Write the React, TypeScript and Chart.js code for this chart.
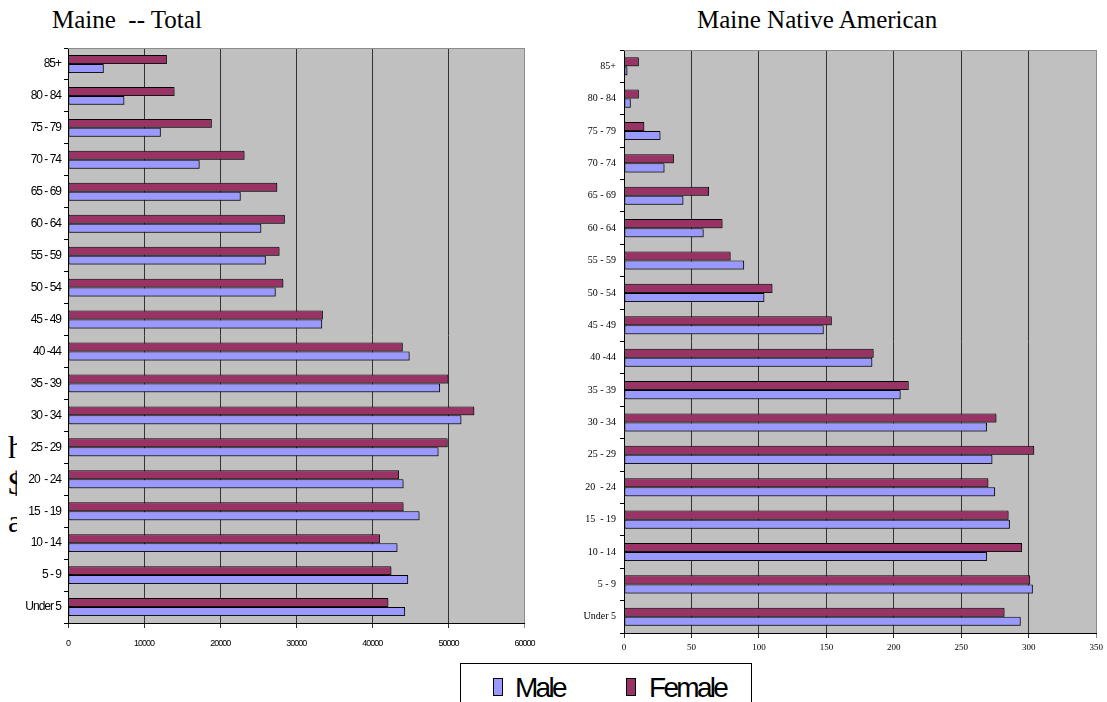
import React, { useEffect, useRef } from "react";
import { Chart, registerables } from "chart.js";

Chart.register(...registerables);

// ---- data (top row first) ----
const ageGroups = [
  "85+", "80 - 84", "75 - 79", "70 - 74", "65 - 69", "60 - 64", "55 - 59", "50 - 54", "45 - 49",
  "40 -44", "35 - 39", "30 - 34", "25 - 29", "20  - 24", "15  - 19", "10 - 14", "5 - 9", "Under 5",
];
const totalFemale = [13000, 14000, 18900, 23200, 27500, 28500, 27800, 28300, 33500, 44000, 50000, 53400, 49900, 43500, 44100, 41000, 42500, 42100];
const totalMale = [4700, 7400, 12200, 17300, 22700, 25400, 26000, 27300, 33400, 44900, 48900, 51700, 48700, 44100, 46200, 43300, 44700, 44300];
const nativeFemale = [11, 11, 15, 37, 63, 73, 79, 110, 154, 185, 211, 276, 304, 270, 285, 295, 301, 282];
const nativeMale = [2.5, 5, 27, 30, 44, 59, 89, 104, 148, 184, 205, 269, 273, 275, 286, 269, 303, 294];
const totalAxis = [0, 60000, 10000];
const nativeAxis = [0, 350, 50];
const seriesNames = ["Male", "Female"];
const titles = ["Maine  -- Total", "Maine Native American"];
const strayText = ["h", "$", "a"];

const MALE_COLOR = "#9999FF";
const FEMALE_COLOR = "#993366";
const PLOT_BG = "#C0C0C0";

function excelLook(letterSpacing: string) {
  return {
    id: "excelLook",
    beforeDraw(chart: any) {
      const { ctx, chartArea: a } = chart;
      ctx.save();
      ctx.fillStyle = PLOT_BG;
      ctx.fillRect(a.left, a.top, a.right - a.left, a.bottom - a.top);
      ctx.restore();
      (ctx as any).letterSpacing = letterSpacing;
    },
    beforeDatasetsDraw(chart: any) {
      const { ctx, chartArea: a } = chart;
      ctx.save();
      ctx.strokeStyle = "#8c8c8c";
      ctx.lineWidth = 1;
      ctx.beginPath();
      ctx.moveTo(a.left, Math.round(a.top) + 0.5);
      ctx.lineTo(Math.round(a.right) + 0.5, Math.round(a.top) + 0.5);
      ctx.lineTo(Math.round(a.right) + 0.5, a.bottom);
      ctx.stroke();
      ctx.restore();
      ctx.save();
      ctx.shadowColor = "rgba(40,40,40,0.55)";
      ctx.shadowOffsetX = 1.5;
      ctx.shadowOffsetY = 1.5;
      ctx.shadowBlur = 0;
    },
    afterDatasetsDraw(chart: any) {
      chart.ctx.restore();
    },
    afterDraw(chart: any) {
      (chart.ctx as any).letterSpacing = "0px";
    },
  };
}

type PanelProps = {
  left: number; top: number; width: number; height: number;
  female: number[]; male: number[]; axis: number[];
  yWidth: number; padTop: number; padRight: number; xHeight: number;
  yFont: any; xFont: any; xPad: number; yPad: number; letterSpacing: string;
};

function Panel(p: PanelProps) {
  const ref = useRef<HTMLCanvasElement | null>(null);
  useEffect(() => {
    if (!ref.current) return;
    const [min, max, step] = p.axis;
    const chart = new Chart(ref.current, {
      type: "bar",
      data: {
        labels: ageGroups,
        datasets: [
          {
            label: seriesNames[1], data: p.female, backgroundColor: FEMALE_COLOR,
            borderColor: "#000", borderWidth: 1, borderSkipped: false,
          },
          {
            label: seriesNames[0], data: p.male, backgroundColor: MALE_COLOR,
            borderColor: "#000", borderWidth: 1, borderSkipped: false,
          },
        ],
      },
      options: {
        indexAxis: "y",
        responsive: false,
        maintainAspectRatio: false,
        devicePixelRatio: 1,
        animation: false,
        events: [],
        layout: { padding: { left: 0, top: p.padTop, right: p.padRight, bottom: 0 } },
        datasets: { bar: { barPercentage: 1, categoryPercentage: 0.56 } },
        plugins: { legend: { display: false }, tooltip: { enabled: false }, title: { display: false } },
        scales: {
          x: {
            type: "linear", min, max,
            ticks: {
              stepSize: step, color: "#000", font: p.xFont, padding: p.xPad, maxRotation: 0, autoSkip: false,
              callback: (v: any) => String(v),
            },
            grid: {
              color: (c: any) => (c.index === (max - min) / step ? "#8c8c8c" : "#333"),
              lineWidth: 1, tickLength: 5, drawTicks: true,
            },
            border: { color: "#000", width: 1 },
            afterFit: (s: any) => { s.height = p.xHeight; },
          },
          y: {
            type: "category",
            ticks: { color: "#000", font: p.yFont, padding: p.yPad, autoSkip: false },
            grid: { drawOnChartArea: false, drawTicks: true, tickLength: 4, color: "#000" },
            border: { color: "#000", width: 1 },
            afterFit: (s: any) => { s.width = p.yWidth; },
          },
        },
      },
      plugins: [excelLook(p.letterSpacing)],
    });
    return () => chart.destroy();
  }, []);
  return (
    <canvas
      ref={ref}
      width={p.width}
      height={p.height}
      style={{ position: "absolute", left: p.left, top: p.top, width: p.width, height: p.height, background: "#fff" }}
    />
  );
}

export default function App() {
  const serif = "'Liberation Serif', 'Times New Roman', serif";
  const sans = "'Liberation Sans', Arial, sans-serif";
  return (
    <div style={{ position: "fixed", left: 0, top: 0, width: 1107, height: 702, background: "#fff", overflow: "hidden" }}>
      {strayText.map((t, i) => (
        <div key={i} style={{ position: "absolute", left: 8, top: [431, 467, 505][i], fontFamily: serif, fontSize: 32, lineHeight: 1, color: "#000" }}>{t}</div>
      ))}
      <div style={{ position: "absolute", left: 52, top: 7, fontFamily: serif, fontSize: 25, lineHeight: 1, whiteSpace: "pre", color: "#000" }}>{titles[0]}</div>
      <div style={{ position: "absolute", left: 697, top: 7, fontFamily: serif, fontSize: 25, lineHeight: 1, whiteSpace: "pre", color: "#000" }}>{titles[1]}</div>
      <Panel
        left={17} top={30} width={530} height={620}
        female={totalFemale} male={totalMale} axis={totalAxis}
        yWidth={51} padTop={18} padRight={20} xHeight={27}
        yFont={{ family: sans, size: 12 }} xFont={{ family: sans, size: 9 }}
        xPad={10} yPad={3} letterSpacing="-1px"
      />
      <Panel
        left={560} top={30} width={547} height={630}
        female={nativeFemale} male={nativeMale} axis={nativeAxis}
        yWidth={64} padTop={20} padRight={9} xHeight={27}
        yFont={{ family: serif, size: 10 }} xFont={{ family: serif, size: 9 }}
        xPad={4} yPad={4} letterSpacing="0px"
      />
      <div style={{ position: "absolute", left: 460, top: 663, width: 290, height: 60, border: "1px solid #000", background: "#fff" }}>
        <div style={{ position: "absolute", left: 32, top: 14, width: 8, height: 16, background: MALE_COLOR, border: "1px solid #000" }} />
        <div style={{ position: "absolute", left: 54, top: 10, fontFamily: sans, fontSize: 28, lineHeight: 1, letterSpacing: "-2.7px", color: "#000" }}>{seriesNames[0]}</div>
        <div style={{ position: "absolute", left: 165, top: 14, width: 8, height: 16, background: FEMALE_COLOR, border: "1px solid #000" }} />
        <div style={{ position: "absolute", left: 188, top: 10, fontFamily: sans, fontSize: 28, lineHeight: 1, letterSpacing: "-2.7px", color: "#000" }}>{seriesNames[1]}</div>
      </div>
    </div>
  );
}
